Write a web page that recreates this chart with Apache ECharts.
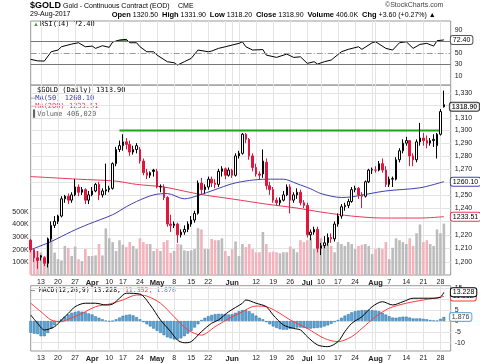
<!DOCTYPE html>
<html><head><meta charset="utf-8">
<script src="https://cdn.jsdelivr.net/npm/echarts@6/dist/echarts.min.js"></script>
<style>html,body{margin:0;padding:0;background:#fff}#c{width:480px;height:363px}</style>
</head><body><div id="c"></div>
<script>
const dates = ['3/8','3/9','3/10','3/13','3/14','3/15','3/16','3/17','3/20','3/21','3/22','3/23','3/24','3/27','3/28','3/29','3/30','3/31','4/3','4/4','4/5','4/6','4/7','4/10','4/11','4/12','4/13','4/17','4/18','4/19','4/20','4/21','4/24','4/25','4/26','4/27','4/28','5/1','5/2','5/3','5/4','5/5','5/8','5/9','5/10','5/11','5/12','5/15','5/16','5/17','5/18','5/19','5/22','5/23','5/24','5/25','5/26','5/30','5/31','6/1','6/2','6/5','6/6','6/7','6/8','6/9','6/12','6/13','6/14','6/15','6/16','6/19','6/20','6/21','6/22','6/23','6/26','6/27','6/28','6/29','6/30','7/3','7/5','7/6','7/7','7/10','7/11','7/12','7/13','7/14','7/17','7/18','7/19','7/20','7/21','7/24','7/25','7/26','7/27','7/28','7/31','8/1','8/2','8/3','8/4','8/7','8/8','8/9','8/10','8/11','8/14','8/15','8/16','8/17','8/18','8/21','8/22','8/23','8/24','8/25','8/28','8/29'];

const opens = [1216,1209,1203,1204.5,1203,1199,1217,1227,1230,1234,
 1247,1249,1246,1250,1256,1252,1254,1246,1250,1253,
 1258,1250,1253,1254,1255,1274,1285,1288,1291,1289,
 1283,1285,1285,1276,1267,1265,1269,1268,1256,1256,
 1248,1228,1227,1228,1220,1222,1224,1228,1231,1236,
 1259,1254,1256,1262,1259,1258,1268,1270,1265,1269,
 1265,1280,1282,1297,1293,1280,1271,1266,1266,1275,
 1257,1254,1246,1244,1246,1250,1256,1246,1250,1252,
 1244,1242,1220,1222,1224,1210,1212,1214,1218,1217,
 1228,1234,1241,1242,1245,1254,1255,1250,1249,1260,
 1269,1269,1269,1274,1269,1258,1262,1262,1277,1284,
 1290,1292,1280,1277,1291,1294,1292,1290,1292,1288,1297,1320.5];
const closes = [1209,1203,1201,1203.5,1199,1217,1227,1230,1234,1247,
 1249,1246,1250,1256,1252,1254,1246,1250,1253,1258,
 1250,1253,1254,1255,1274,1285,1288,1291,1289,1283,
 1285,1288,1276,1267,1265,1267,1268,1256,1256.5,1248,
 1228,1227,1228,1220,1222,1224,1228,1231,1236,1259,
 1254,1256,1262,1259,1258,1268,1270,1265,1269,1265,
 1280,1282,1297,1293,1280,1271,1266,1265,1276,1257,
 1254,1246,1244,1246,1250,1256,1246,1250,1252,1244,
 1242,1220,1222,1224,1210,1212,1214,1218,1217,1228,
 1234,1241,1242,1245,1254,1255,1250,1249,1260,1269,
 1269.5,1269,1274,1269,1258,1262,1262.5,1277,1284,1290,
 1292,1280,1277,1291,1294,1292,1290,1292,1293,1297,1315,1318.9];
const lows = [1207,1200,1195,1201,1197,1196,1215,1225,1228,1233,
 1244,1243,1244,1249,1249,1250,1243,1243,1249,1252,
 1246,1248,1250,1252,1254,1272,1283,1284,1285,1280,
 1281,1282,1274,1265,1262,1263,1264,1255,1252,1246,
 1226,1222,1225,1214,1218,1220,1222,1226,1229,1235,
 1250,1251,1254,1256,1255,1256,1264,1262,1264,1263,
 1264,1278,1281,1290,1277,1268,1264,1262,1263,1254,
 1250,1244,1242,1242,1245,1249,1236,1244,1247,1242,
 1240,1218,1216,1220,1207,1205,1210,1212,1214,1215,
 1226,1232,1238,1240,1244,1252,1247,1240,1248,1259,
 1266,1267,1268,1267,1256,1256,1256,1261,1275,1282,
 1288,1272,1272,1275,1288,1288,1286,1288,1287,1278,1296,1318.2];
const highs = [1217,1210,1208,1205,1204,1218,1230,1234,1235,1249,
 1250,1251,1252,1262,1258,1256,1255,1253,1256,1259,
 1260,1255,1274,1257,1275,1287,1292,1297,1294,1292,
 1288,1290,1287,1278,1270,1268,1270,1270,1258,1258,
 1249,1235,1230,1229,1224,1227,1230,1234,1238,1261,
 1263,1258,1264,1264,1262,1270,1272,1271,1271,1270,
 1282,1284,1298,1298,1294,1282,1274,1268,1285,1278,
 1260,1256,1248,1248,1253,1258,1258,1252,1255,1254,
 1246,1244,1224,1226,1226,1214,1219,1221,1221,1230,
 1236,1243,1244,1247,1256,1257,1256,1252,1261,1270,
 1271,1272,1276,1278,1272,1264,1264,1279,1286,1293,
 1295,1292,1282,1293,1306,1298,1296,1294,1297,1298,1317,1331.9];
const prevCloseBeforeStart = 1216;
const volumesK = [255,184,190,177,150,255,290,177,125,115,
 230,215,150,225,125,110,205,150,150,155,
 245,155,368,290,260,190,275,240,220,260,
 230,205,290,260,245,245,190,205,190,260,
 275,175,190,245,240,195,190,195,205,370,
 360,205,205,285,275,275,290,190,150,205,
 265,150,245,220,245,205,180,180,340,245,
 180,185,180,172,180,180,225,205,180,275,
 260,275,290,205,356,290,260,245,230,180,
 260,245,230,260,245,205,230,240,245,230,
 165,205,215,205,260,125,215,290,275,260,
 245,290,230,330,400,260,275,245,230,360,330,406.02];
const ma50 = [[0,1209],[6,1215],[12,1222.5],[17,1228],[24,1235],[28,1241],[31,1245],[36,1250],[40,1251],[45,1247],[49,1249.5],[54,1254],[59,1258.5],[64,1261],[69,1262],[74,1262],[78,1258.5],[82,1254.6],[85,1251],[91,1248],[94,1248.5],[104,1253],[114,1255.4],[121,1260.10]];
const ma200 = [[0,1264],[14,1262],[25,1260.5],[31,1258],[39,1256],[49,1250.7],[59,1246.9],[69,1243],[78,1240],[85,1237],[94,1234],[103,1232.5],[114,1232.5],[121,1233.51]];
const rsi = [[0,38.6],[2,36],[4,35.6],[6,51.8],[8,54.8],[9,60.5],[12,65.2],[14,67.5],[16,60.5],[18,61.7],[19,57.7],[21,62.3],[23,59.5],[24,68.7],[26,72.2],[28,73.4],[29,67.5],[31,67.5],[32,60.5],[34,51.8],[36,51.8],[37,46],[40,34.5],[42,32.7],[43,28.7],[45,34.5],[47,40.3],[49,54.8],[52,51.8],[53,53],[55,57.7],[57,60.5],[59,63.5],[61,66.4],[62,69.2],[63,60.5],[65,54.8],[68,55.6],[69,46],[72,42],[75,47.8],[77,42],[79,43],[81,31.6],[83,34.5],[84,30.4],[86,34.5],[88,37.4],[91,51.8],[93,56],[96,60.5],[97,56],[100,67.5],[101,69.2],[104,57.7],[106,54.8],[108,67.5],[110,69.2],[112,57.7],[114,64.6],[116,66.4],[118,61.7],[119,71],[121,72.40]];
const macd = [[0,2.8],[2,-1],[4,-4.1],[7,-2.6],[9,0.5],[11,3.5],[13,6.6],[16,8.2],[19,8.2],[22,7.4],[24,7.8],[26,10.5],[28,12.8],[32,12.4],[35,7.4],[38,0.5],[41,-4.9],[43,-8.8],[45,-10],[47,-9.5],[50,-4.9],[53,-1],[55,0.5],[58,4.3],[62,8.2],[63,9.7],[66,8.2],[69,6.6],[71,2.8],[74,-1.8],[77,-3.4],[79,-4.1],[81,-7.2],[84,-11],[87,-11.8],[90,-9.5],[92,-4.9],[94,-1.1],[97,2],[100,6.6],[103,8.9],[106,7.4],[109,8.9],[112,10.5],[115,10.5],[118,10.5],[120,11],[121,13.228]];
const signal = [[0,8.2],[3,4.3],[6,0.5],[9,-0.3],[11,0.8],[15,3.5],[19,6.6],[23,7.8],[27,9.7],[31,12],[34,11.5],[38,8.2],[42,2],[46,-4.1],[50,-6.5],[54,-2.6],[59,2],[61,3.5],[66,6.9],[69,6.6],[73,3.5],[76,0.5],[81,-3.4],[86,-8],[90,-9.5],[94,-7.2],[97,-3.4],[101,2],[105,5.9],[110,8.2],[115,9.7],[120,11],[121,11.352]];
const histogram = [-5.4,-5.8,-6,-7,-7,-5.5,-3.5,-2,-0.5,0.8,
 2,3,3.8,4.2,4.5,4.3,4,3.5,3,2.2,
 1.5,0.8,0.2,-0.2,0,0.8,1.6,2.4,2.8,3,
 2.6,1.8,0.8,-0.5,-1.5,-2.5,-3.5,-4.5,-5.5,-6.5,
 -7.5,-8,-8.5,-8.5,-8,-7,-5.8,-4.5,-3,-1.5,
 0.5,1.5,2.2,2.8,3.2,3.3,3.3,3.2,3,3.2,
 3.8,4.5,5,5,4.5,3.5,2.5,1.5,0.8,-0.5,
 -1.5,-2.5,-3.2,-3.8,-4,-4,-3.6,-3.3,-3,-3,
 -3.2,-3.5,-3.5,-3.3,-3.2,-3,-2.5,-2,-1.3,-0.5,
 0.5,1.5,2.5,3.2,4,4.5,4.8,5,5,5,
 5,4.8,4.5,3.8,3,2.2,1.6,1.5,1.8,2,
 2,1.6,1.2,1.2,1.2,1,0.8,0.5,0.3,0.2,1,1.876];
const resistance = [[26,1300],[120,1300]];
const tickIndex = [3,8,13,18,23,27,32,37,42,47,52,59,66,71,76,81,85,90,95,101,105,110,115,120];
const tickText = ['13','20','27','Apr','10','17','24','May','8','15','22','Jun','12','19','26','Jul','10','17','24','Aug','7','14','21','28'];
const monthTicks = ['Apr','May','Jun','Jul','Aug'];
const gridIndex = [3,8,13,18,23,27,32,37,42,47,52,57,59,61,66,71,76,81,85,90,95,100,101,105,110,115,120];
const priceTicks = [1200,1210,1220,1230,1240,1250,1260,1270,1280,1290,1300,1310,1320,1330];
const priceLabelTicks = [1200,1210,1220,1240,1250,1270,1280,1290,1300,1310,1330];
const volumeTicks = [100000,200000,300000,400000,500000];
const rsiTicks = [10,30,50,70,90];
const macdTicks = [-10,-5,0,5,10,15];

const RED = '#e0163c', BLACK = '#000';
const cats = dates.concat(['','']);
const N = dates.length;
const candleData = opens.map((o,i)=>{
  const pc = i===0 ? prevCloseBeforeStart : closes[i-1];
  const line = closes[i] < pc ? RED : BLACK;
  const fill = closes[i] > o ? '#fff' : line;
  return {value:[o,closes[i],lows[i],highs[i]], itemStyle:{color:fill,color0:fill,borderColor:line,borderColor0:line}};
});
const volData = volumesK.map((v,i)=>{
  const pc = i===0 ? prevCloseBeforeStart : closes[i-1];
  const down = closes[i] < pc;
  return {value:v*1000, itemStyle:{color: down ? '#f2b3bd' : '#bcbcbc'}};
});
const tickMap = {}; tickIndex.forEach((k,j)=>tickMap[k]=tickText[j]);
const gridSet = new Set(gridIndex);
const FONT = 'Liberation Sans, Arial, sans-serif';
const MONO = 'DejaVu Sans Mono, monospace';

function xAxis(g, labels){
  return {type:'category', gridIndex:g, data:cats, boundaryGap:false,
    axisLine:{show:false}, axisTick:{show:false},
    axisLabel:{show:labels, interval:(i)=>tickMap[i]!==undefined, margin:4, fontSize:7, fontFamily:FONT, color:'#222',
      formatter:(v,i)=>{const t=tickMap[i]; return monthTicks.includes(t)?'{m|'+t+'}':t;},
      rich:{m:{fontWeight:'bold',fontSize:7.5,fontFamily:FONT,color:'#222'}}},
    splitLine:{show:true, interval:(i)=>gridSet.has(i), lineStyle:{color:'#e4e4e4',width:1}}};
}
const L = 30.7, R = 29.3;
const box = (border)=>({show:true, fontSize:7, fontFamily:FONT, color:'#000', backgroundColor:'#fff', borderColor:border, borderWidth:1, borderRadius:2, padding:[1,2,0,2]});

const option = {
  animation:false,
  backgroundColor:'#fff',
  grid:[
    {left:L,right:R,top:21,height:64,show:true,borderColor:'#999',borderWidth:1},
    {left:L,right:R,top:85.2,height:189.8,show:true,borderColor:'#999',borderWidth:1},
    {left:L,right:R,top:285.7,height:65.3,show:true,borderColor:'#999',borderWidth:1}
  ],
  xAxis:[xAxis(0,false), xAxis(1,true), xAxis(2,true)],
  yAxis:[
    {type:'value',gridIndex:0,position:'right',min:-6,max:105.3,splitLine:{show:false},axisLine:{show:false},axisTick:{show:false},
      axisLabel:{customValues:rsiTicks,fontSize:7,fontFamily:FONT,color:'#222',margin:4}},
    {type:'log',logBase:10,gridIndex:1,position:'right',min:1190.5,max:1336.3,axisLine:{show:false},
      axisTick:{show:false,customValues:priceTicks},
      splitLine:{show:true,lineStyle:{color:'#e4e4e4'}},
      axisLabel:{customValues:priceLabelTicks,fontSize:7,fontFamily:FONT,color:'#222',margin:4}},
    {type:'value',gridIndex:1,position:'left',min:0,max:1500000,splitLine:{show:false},axisLine:{show:false},axisTick:{show:false},
      axisLabel:{customValues:volumeTicks,formatter:(v)=>(v/1000)+'K',fontSize:7,fontFamily:FONT,color:'#222',margin:2}},
    {type:'value',gridIndex:2,position:'right',min:-13.8,max:16.27,axisLine:{show:false},
      axisTick:{show:false,customValues:macdTicks},
      splitLine:{show:true,lineStyle:{color:'#e4e4e4'}},
      axisLabel:{customValues:macdTicks,fontSize:7,fontFamily:FONT,color:'#222',margin:4}}
  ],
  visualMap:[{type:'piecewise',show:false,dimension:1,seriesIndex:1,
    pieces:[{gt:70,color:'#4f9a3f'},{gte:30,lte:70,color:'rgba(255,255,255,0)'},{lt:30,color:'#e04050'}]}],
  series:[
    {type:'line',xAxisIndex:0,yAxisIndex:0,data:rsi,showSymbol:false,lineStyle:{color:'#000',width:1},z:4,
      endLabel:Object.assign(box('#555'),{distance:7,formatter:(p)=>p.value[1].toFixed(2)}),
      markLine:{silent:true,symbol:'none',label:{show:false},
        data:[{yAxis:70,lineStyle:{color:'#777',type:'solid',width:1}},{yAxis:30,lineStyle:{color:'#777',type:'solid',width:1}},{yAxis:50,lineStyle:{color:'#999',type:[6,2,1,2],width:1}}]}},
    {type:'line',xAxisIndex:0,yAxisIndex:0,data:rsi,showSymbol:false,lineStyle:{width:0,opacity:0},areaStyle:{origin:70,opacity:1},z:3},
    {type:'bar',xAxisIndex:1,yAxisIndex:2,data:volData,barWidth:2.6,z:1},
    {type:'line',xAxisIndex:1,yAxisIndex:1,data:ma200,showSymbol:false,smooth:0.3,lineStyle:{color:'#e8385a',width:1},z:2,
      endLabel:Object.assign(box('#e8385a'),{distance:7,formatter:(p)=>p.value[1].toFixed(2)})},
    {type:'line',xAxisIndex:1,yAxisIndex:1,data:ma50,showSymbol:false,smooth:0.3,lineStyle:{color:'#4040b0',width:1},z:2,
      endLabel:Object.assign(box('#4040b0'),{distance:7,formatter:(p)=>p.value[1].toFixed(2)})},
    {type:'line',xAxisIndex:1,yAxisIndex:1,data:resistance,showSymbol:false,lineStyle:{color:'#1aa51a',width:2},z:3},
    {type:'candlestick',xAxisIndex:1,yAxisIndex:1,data:candleData,barWidth:2,itemStyle:{borderWidth:1},z:5},
    {type:'scatter',xAxisIndex:1,yAxisIndex:1,data:[[N-1,closes[N-1]]],symbolSize:0,z:6,
      label:Object.assign(box('#000'),{position:'right',distance:6,fontWeight:'bold',formatter:(p)=>p.value[1].toFixed(2)})},
    {type:'bar',xAxisIndex:2,yAxisIndex:3,data:histogram,barWidth:2.8,itemStyle:{color:'#5aa4d6',borderColor:'#2b6e9e',borderWidth:0.5},z:1},
    {type:'line',xAxisIndex:2,yAxisIndex:3,data:signal,showSymbol:false,smooth:0.3,lineStyle:{color:'#ff3b3b',width:1},z:3,
      endLabel:Object.assign(box('#ff3b3b'),{distance:7,formatter:(p)=>p.value[1].toFixed(3)})},
    {type:'line',xAxisIndex:2,yAxisIndex:3,data:macd,showSymbol:false,smooth:0.3,lineStyle:{color:'#000',width:1},z:4,
      endLabel:Object.assign(box('#000'),{distance:7,formatter:(p)=>p.value[1].toFixed(3)})},
    {type:'scatter',xAxisIndex:2,yAxisIndex:3,data:[[N-1,histogram[N-1]]],symbolSize:0,z:5,
      label:Object.assign(box('#4a9ad0'),{position:'right',distance:6,formatter:(p)=>p.value[1].toFixed(3)})}
  ],
  graphic:[
    {type:'text',left:30,top:1.5,style:{text:'$GOLD',font:'bold 9px '+FONT,fill:'#000'}},
    {type:'text',left:63,top:2.5,style:{text:'Gold - Continuous Contract (EOD)',font:'7px '+FONT,fill:'#000'}},
    {type:'text',left:178,top:2.5,style:{text:'CME',font:'7px '+FONT,fill:'#000'}},
    {type:'text',left:385,top:1.5,style:{text:'\u00A9StockCharts.com',font:'7px '+FONT,fill:'#444'}},
    {type:'text',left:30,top:11,style:{text:'29-Aug-2017',font:'7px '+FONT,fill:'#000'}},
    {type:'text',left:111.7,top:11,style:{text:'{b|Open} 1320.50  {b|High} 1331.90  {b|Low} 1318.20  {b|Close} 1318.90  {b|Volume} 406.0K  {b|Chg} +3.60 (+0.27%) \u25B2',
      font:'7px '+FONT,fill:'#000',rich:{b:{font:'bold 7.5px '+FONT,fill:'#000'}}}},
    {type:'text',left:33,top:21,style:{text:'\u25B2',font:'6px '+FONT,fill:'#4f9a3f'}},
    {type:'text',left:40,top:21,style:{text:'RSI(14) 72.40',font:'7px '+MONO,fill:'#000'}},
    {type:'text',left:37,top:86.5,style:{text:'$GOLD (Daily) 1318.90',font:'7px '+MONO,fill:'#000'}},
    {type:'text',left:31,top:94.5,style:{text:'\u2014MA(50) 1260.10',font:'7px '+MONO,fill:'#4040b0'}},
    {type:'text',left:31,top:102.5,style:{text:'\u2014MA(200) 1233.51',font:'7px '+MONO,fill:'#e8385a'}},
    {type:'text',left:33,top:110.5,style:{text:'\u258CVolume 406,020',font:'7px '+MONO,fill:'#666'}},
    {type:'text',left:31,top:286.5,style:{text:'{k|\u2014 MACD(12,26,9) 13.228, }{r|11.352, }{b|1.876}',font:'6.5px '+MONO,
      rich:{k:{fill:'#000',font:'6.5px '+MONO},r:{fill:'#ff3b3b',font:'6.5px '+MONO},b:{fill:'#3a98d0',font:'6.5px '+MONO}}}}
  ]
};
const chart = echarts.init(document.getElementById('c'),null,{renderer:'canvas'});
chart.setOption(option);
</script>
</body></html>
